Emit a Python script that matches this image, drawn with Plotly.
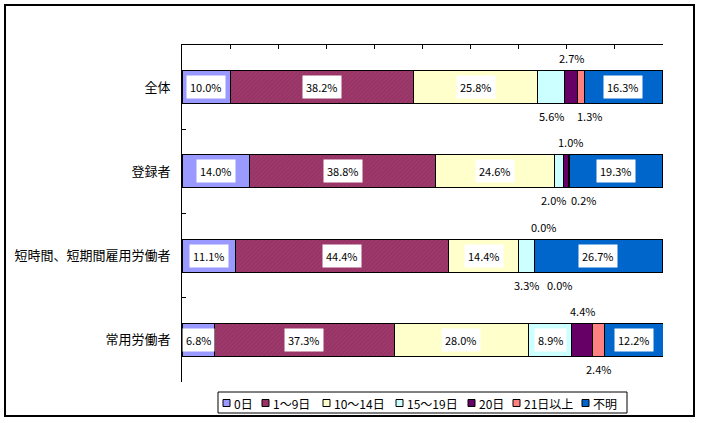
import plotly.graph_objects as go

categories = ["全体", "登録者", "短時間、短期間雇用労働者", "常用労働者"]
series_names = ["0日", "1～9日", "10～14日", "15～19日", "20日", "21日以上", "不明"]
v_0 = [10.0, 14.0, 11.1, 6.8]
v_1_9 = [38.2, 38.8, 44.4, 37.3]
v_10_14 = [25.8, 24.6, 14.4, 28.0]
v_15_19 = [5.6, 2.0, 3.3, 8.9]
v_20 = [2.7, 1.0, 0.0, 4.4]
v_21 = [1.3, 0.2, 0.0, 2.4]
v_unknown = [16.3, 19.3, 26.7, 12.2]
series_values = [v_0, v_1_9, v_10_14, v_15_19, v_20, v_21, v_unknown]

colors = ["#9999FF", "#993366", "#FFFFCC", "#CCFFFF", "#660066", "#FF8080", "#0066CC"]
FONT = "Noto Sans CJK JP"

W, H = 701, 423
L, R, T, B = 182, 38, 45, 41
PW, PH = W - L - R, H - T - B

def px2x(px):
    return (px - L) / PW

def px2y(py):
    return (H - B - py) / PH

fig = go.Figure()
for i, (name, vals) in enumerate(zip(series_names, series_values)):
    marker = dict(color=colors[i], line=dict(color="black", width=1))
    if i == 1:
        marker["pattern"] = dict(shape="/", fgcolor="#A34A78", size=3, solidity=0.3, bgcolor=colors[i])
    fig.add_trace(go.Bar(
        y=categories, x=vals, name=name, orientation="h",
        marker=marker, width=0.39, showlegend=False, hoverinfo="x+name",
    ))

# data labels
nudges = {(0, 5): 9, (1, 3): -6, (1, 4): 4, (1, 5): 14, (2, 4): 9, (2, 5): 25}
annotations = []
for ci, cat in enumerate(categories):
    cum = 0.0
    for si, vals in enumerate(series_values):
        v = vals[ci]
        center = cum + v / 2
        cum += v
        txt = f"{v:.1f}%"
        if v >= 6:
            annotations.append(dict(
                x=center, y=cat, xref="x", yref="y", text=txt, showarrow=False,
                bgcolor="white", borderpad=3,
                font=dict(family=FONT, size=11, color="black"),
            ))
        else:
            ys = 29 if si == 4 else -29
            annotations.append(dict(
                x=center, y=cat, xref="x", yref="y", text=txt, showarrow=False,
                xshift=nudges.get((ci, si), 0), yshift=ys,
                font=dict(family=FONT, size=11, color="black"),
            ))

# custom compact legend
shapes = []
legend_sq_x = [223, 262, 323, 396, 468, 513, 582]
ly = 403
for i, name in enumerate(series_names):
    sx = legend_sq_x[i]
    shapes.append(dict(type="rect", xref="paper", yref="paper",
                       x0=px2x(sx), x1=px2x(sx + 7), y0=px2y(ly + 3.5), y1=px2y(ly - 3.5),
                       fillcolor=colors[i], line=dict(color="black", width=1)))
    annotations.append(dict(x=px2x(sx + 9), y=px2y(ly), xref="paper", yref="paper",
                            text=name, showarrow=False, xanchor="left", yanchor="middle",
                            font=dict(family=FONT, size=12, color="black")))
# legend box
shapes.append(dict(type="rect", xref="paper", yref="paper",
                   x0=px2x(218), x1=px2x(627), y0=px2y(413), y1=px2y(392),
                   line=dict(color="black", width=1), fillcolor="rgba(0,0,0,0)"))
# outer frame
shapes.append(dict(type="rect", xref="paper", yref="paper",
                   x0=px2x(5), x1=px2x(694), y0=px2y(416), y1=px2y(5),
                   line=dict(color="black", width=2), fillcolor="rgba(0,0,0,0)"))

fig.update_layout(
    width=W, height=H, barmode="stack",
    margin=dict(l=L, r=R, t=T, b=B, autoexpand=False),
    paper_bgcolor="white", plot_bgcolor="white",
    font=dict(family=FONT, size=12, color="black"),
    showlegend=False,
    annotations=annotations, shapes=shapes,
    bargap=0.61,
)
fig.update_xaxes(
    range=[0, 100], side="top", dtick=10, showticklabels=False, automargin=False,
    ticks="inside", ticklen=4, tickcolor="black", showgrid=False, zeroline=False,
    showline=True, linecolor="black", linewidth=1, mirror=False,
)
fig.update_yaxes(
    autorange="reversed", ticks="inside", ticklen=4, tickcolor="black", automargin=False,
    tickson="boundaries", showgrid=False, zeroline=False,
    showline=True, linecolor="black", linewidth=1,
    tickfont=dict(family=FONT, size=13, color="black"), ticklabelstandoff=8,
)

fig.write_html(
    "out.html",
    config={"displayModeBar": False},
    post_script="document.body.style.margin='0';document.body.style.overflow='hidden';",
)
